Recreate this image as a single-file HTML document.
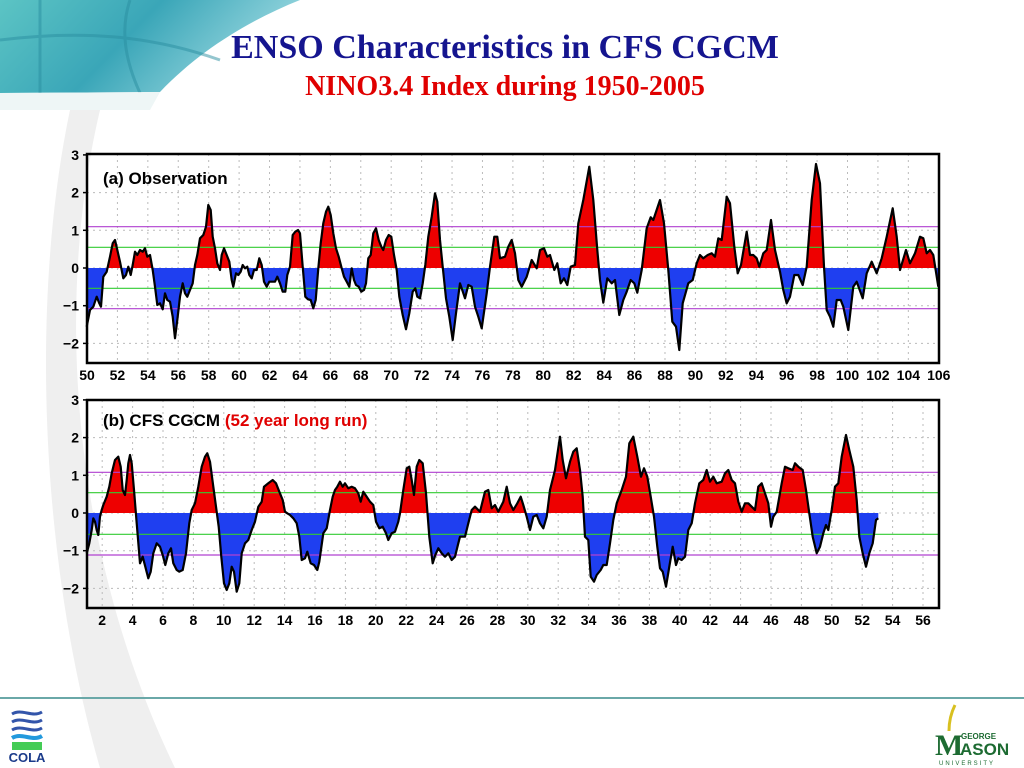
<!DOCTYPE html>
<html><head><meta charset="utf-8"><style>
html,body{margin:0;padding:0;background:#fff;}
#c{position:relative;width:1024px;height:768px;overflow:hidden;}
svg text{font-family:"Liberation Sans",Arial,sans-serif;}
</style></head><body><div id="c">
<svg id="s" width="1024" height="768" viewBox="0 0 1024 768" xmlns="http://www.w3.org/2000/svg">
<defs>
<linearGradient id="tg" x1="0" y1="0" x2="1" y2="0.3">
<stop offset="0" stop-color="#5cc4c4"/><stop offset="0.5" stop-color="#3aa6b8"/><stop offset="1" stop-color="#9ad8e0"/></linearGradient>
<clipPath id="ta"><rect x="87" y="150" width="853" height="118"/></clipPath>
<clipPath id="tb"><rect x="87" y="268" width="853" height="100"/></clipPath>
<clipPath id="ba"><rect x="87" y="396" width="853" height="117"/></clipPath>
<clipPath id="bb"><rect x="87" y="513" width="853" height="100"/></clipPath>
</defs>
<path d="M0,0 L300,0 C250,20 200,50 160,92 L0,93 Z" fill="url(#tg)"/>
<path d="M40,0 L40,93 M0,40 C80,30 150,35 220,60 M130,0 C120,30 125,60 140,93" stroke="#2a8ea0" stroke-width="3" fill="none" opacity="0.5"/>
<path d="M0,93 L160,92 L150,110 L0,110 Z" fill="#eef6f6"/>
<path d="M100,110 C55,300 70,550 175,768 L100,768 C40,560 30,300 70,110 Z" fill="#efefef"/>
<text x="505" y="58" text-anchor="middle" style="font-family:'Liberation Serif',serif;font-weight:bold;font-size:34px" fill="#15158f">ENSO Characteristics in CFS CGCM</text>
<text x="505" y="95" text-anchor="middle" style="font-family:'Liberation Serif',serif;font-weight:bold;font-size:28px" fill="#e00000">NINO3.4 Index during 1950-2005</text>
<line x1="0" y1="698" x2="1024" y2="698" stroke="#6aa8a8" stroke-width="2"/>
<g id="g"></g>
<g transform="translate(10,708)">
<path d="M2,6 C12,0 22,10 32,4 M2,14 C12,8 22,18 32,12 M2,22 C12,16 22,26 32,20" stroke="#3355aa" stroke-width="3" fill="none"/>
<path d="M2,30 C12,24 22,34 32,28" stroke="#2299dd" stroke-width="4" fill="none"/>
<rect x="2" y="34" width="30" height="8" fill="#44cc55"/>
<text x="17" y="54" text-anchor="middle" font-size="13" font-weight="bold" fill="#1a3a8a">COLA</text>
</g>
<g transform="translate(935,705)">
<path d="M20,0 C16,8 14,16 14,26" stroke="#d8c020" stroke-width="3" fill="none"/>
<text x="0" y="50" font-size="30" font-weight="bold" fill="#1d6b32" style="font-family:'Liberation Serif',serif">M</text>
<text x="26" y="34" font-size="8" font-weight="bold" fill="#1d6b32">GEORGE</text>
<text x="25" y="50" font-size="17" font-weight="bold" fill="#1d6b32">ASON</text>
<text x="4" y="60" font-size="6" fill="#1d6b32" letter-spacing="2">UNIVERSITY</text>
</g>
</svg></div>
<script>
var NS="http://www.w3.org/2000/svg",g=document.getElementById("g");
function el(t,a,txt){var e=document.createElementNS(NS,t);for(var k in a)e.setAttribute(k,a[k]);if(txt!=null)e.textContent=txt;g.appendChild(e);return e;}
var top1=[[80,560],[90,510],[100,500],[110,470],[118,490],[123,500],[130,410],[140,395],[150,350],[158,310],[165,300],[172,330],[180,365],[190,415],[198,405],[205,380],[212,405],[218,375],[225,335],[232,345],[240,330],[248,335],[255,325],[262,350],[270,345],[278,390],[285,440],[292,495],[300,490],[308,508],[315,460],[322,480],[330,485],[338,530],[345,595],[352,540],[360,470],[368,430],[375,460],[382,470],[390,450],[398,430],[405,375],[412,345],[420,295],[430,285],[438,260],[445,195],[452,210],[458,290],[465,325],[472,370],[480,390],[485,345],[492,325],[500,345],[508,365],[515,420],[520,440],[528,400],[535,405],[542,395],[548,375],[555,385],[562,380],[568,405],[575,415],[582,390],[590,390],[598,355],[605,375],[612,425],[620,440],[628,425],[636,425],[645,425],[652,410],[660,430],[668,455],[676,455],[682,405],[690,380],[698,285],[706,275],[714,270],[720,280],[728,380],[736,470],[744,478],[752,480],[760,505],[767,480],[775,385],[782,310],[790,250],[798,215],[805,200],[812,225],[820,280],[828,325],[836,350],[845,385],[852,410],[860,425],[868,440],[875,385],[882,420],[888,435],[896,440],[904,455],[912,450],[918,430],[925,355],[932,345],[940,280],[948,265],[956,300],[964,320],[970,330],[978,300],[986,285],[994,290],[1002,345],[1010,390],[1018,470],[1028,525],[1038,568],[1048,520],[1058,455],[1066,445],[1072,470],[1080,475],[1088,430],[1096,375],[1105,290],[1115,230],[1125,160],[1132,185],[1140,300],[1148,380],[1158,475],[1168,530],[1178,600],[1188,520],[1200,430]];
var top2=[[75,475],[85,435],[95,440],[105,500],[115,530],[125,565],[140,460],[150,380],[163,290],[172,290],[180,355],[195,350],[205,320],[215,300],[225,340],[235,420],[245,440],[260,410],[275,360],[290,385],[300,330],[312,325],[322,350],[330,345],[343,390],[352,370],[362,430],[372,415],[382,435],[392,380],[405,375],[415,250],[430,180],[448,80],[460,180],[472,330],[480,420],[490,488],[502,415],[515,430],[525,420],[538,525],[550,480],[560,455],[572,420],[583,430],[592,458],[605,390],[620,265],[632,232],[640,240],[660,180],[672,250],[685,390],[697,545],[708,560],[718,630],[728,490],[745,430],[758,420],[770,370],[780,345],[790,355],[803,345],[815,340],[825,350],[835,295],[845,300],[860,170],[870,190],[883,320],[893,400],[903,375],[920,275],[930,345],[940,345],[950,355],[958,380],[970,340],[980,330],[993,240],[1005,330],[1020,395],[1030,450],[1040,490],[1050,470],[1063,405],[1075,405],[1088,435],[1100,380],[1115,180],[1128,72],[1140,130],[1152,380],[1160,510],[1170,530],[1180,560],[1190,480],[1202,480],[1210,500],[1225,570],[1240,440],[1250,425],[1268,475],[1280,400],[1295,365],[1310,400],[1325,355],[1340,290],[1358,205],[1370,290],[1380,390],[1398,330],[1410,370],[1425,340],[1440,290],[1450,295],[1460,340],[1470,330],[1480,345],[1495,440]];
var bot1=[[80,490],[88,460],[95,420],[100,385],[105,395],[110,420],[115,435],[120,380],[125,360],[130,345],[140,320],[148,290],[155,250],[165,210],[175,200],[182,230],[188,300],[195,315],[200,270],[205,220],[210,195],[215,220],[222,300],[230,400],[240,520],[248,500],[256,530],[265,565],[272,545],[280,490],[290,460],[300,470],[308,495],[316,525],[325,490],[333,475],[340,520],[350,540],[358,545],[368,540],[378,490],[388,400],[395,360],[405,340],[415,290],[425,230],[435,200],[442,190],[450,215],[460,290],[468,350],[476,410],[484,500],[492,580],[500,600],[508,580],[515,530],[522,545],[530,605],[538,580],[545,490],[555,460],[565,450],[575,420],[585,395],[595,350],[605,335],[612,290],[625,280],[638,270],[648,280],[658,305],[668,330],[675,365],[682,370],[690,375],[700,385],[710,400],[718,440],[725,510],[735,505],[742,485],[752,520],[762,525],[772,540],[778,515],[790,430],[800,415],[810,360],[818,320],[825,300],[832,290],[840,275],[848,290],[855,280],[865,295],[875,290],[885,295],[895,310],[902,335],[910,305],[920,320],[930,335],[940,345],[948,395],[958,415],[968,410],[978,430],[985,450],[995,430],[1005,425],[1015,395],[1020,370],[1030,300],[1040,235],[1048,230],[1055,270],[1062,315],[1070,230],[1078,210],[1088,220],[1098,310],[1108,440],[1118,520],[1126,495],[1135,475],[1145,490],[1155,500],[1165,490],[1175,510],[1185,500],[1195,460],[1200,440]];
var bot2=[[75,440],[85,400],[95,360],[105,350],[120,365],[135,305],[145,300],[155,355],[165,345],[175,365],[190,335],[200,290],[210,340],[220,360],[232,340],[242,320],[250,345],[260,380],[270,420],[280,380],[290,375],[300,400],[310,415],[320,380],[330,300],[345,240],[360,140],[368,210],[378,265],[390,215],[400,185],[410,175],[420,240],[428,320],[435,440],[445,450],[452,560],[462,575],[470,555],[482,540],[490,525],[500,525],[510,460],[520,390],[530,340],[545,300],[558,260],[568,160],[580,140],[592,200],[603,260],[612,235],[622,260],[632,320],[642,380],[652,470],[660,535],[668,545],[678,590],[688,530],[698,470],[708,525],[715,505],[725,510],[735,500],[745,420],[755,400],[765,340],[778,280],[790,270],[800,240],[810,275],[820,260],[830,280],[845,275],[855,250],[865,240],[875,270],[885,280],[895,335],[905,365],[915,340],[925,340],[935,350],[945,360],[955,290],[965,280],[975,310],[985,340],[993,410],[1000,380],[1010,365],[1025,280],[1035,230],[1045,235],[1058,240],[1065,220],[1075,230],[1088,240],[1098,300],[1108,370],[1118,440],[1130,490],[1140,470],[1150,430],[1158,405],[1165,420],[1175,360],[1185,290],[1195,280],[1205,200],[1218,135],[1228,180],[1240,230],[1250,330],[1258,440],[1268,490],[1278,530],[1288,490],[1298,460],[1308,390],[1315,385]];
function conv(a,b,oy){var p=[];a.forEach(function(q){p.push([60+q[0]/3,oy+q[1]/3]);});b.forEach(function(q){p.push([440+q[0]/3,oy+q[1]/3]);});return p;}
function panel(o){
 var T=o.top,B=o.bot,L=87,R=939,z=o.zero,u=37.7;
 o.xs.forEach(function(x){el("line",{x1:x,y1:T,x2:x,y2:B,stroke:"#bbb","stroke-width":1,"stroke-dasharray":"2,4"});});
 for(var v=-2;v<=2;v++){var y=z-v*u;el("line",{x1:L,y1:y,x2:R,y2:y,stroke:"#bbb","stroke-width":1,"stroke-dasharray":"2,4"});}
 var pts=o.pts,d="M"+pts[0][0]+","+z;pts.forEach(function(p){d+=" L"+p[0].toFixed(1)+","+p[1].toFixed(1);});d+=" L"+pts[pts.length-1][0]+","+z+"Z";
 el("path",{d:d,fill:"#ee0000","clip-path":"url(#"+o.ca+")"});
 el("path",{d:d,fill:"#1f3ff0","clip-path":"url(#"+o.cb+")"});
 [[o.p1,"#b040d0"],[o.p2,"#b040d0"],[o.g1,"#33cc33"],[o.g2,"#33cc33"]].forEach(function(l){el("line",{x1:L,y1:l[0],x2:R,y2:l[0],stroke:l[1],"stroke-width":1.2});});
 var ld="M"+pts.map(function(p){return p[0].toFixed(1)+","+p[1].toFixed(1);}).join(" L");
 el("path",{d:ld,fill:"none",stroke:"#000","stroke-width":2.2,"stroke-linejoin":"round"});
 el("rect",{x:L,y:T,width:R-L,height:B-T,fill:"none",stroke:"#000","stroke-width":2.5});
 for(var v=-2;v<=3;v++){var y=z-v*u;el("line",{x1:L-4,y1:y,x2:L,y2:y,stroke:"#000","stroke-width":1.5});
  el("text",{x:L-8,y:y+5,"text-anchor":"end","font-size":14,"font-weight":"bold"},v<0?"\u2212"+(-v):""+v);}
 o.xs.forEach(function(x,i){el("text",{x:x,y:B+17,"text-anchor":"middle","font-size":14,"font-weight":"bold"},o.lab[i]);});
}
var xs1=[],lab1=[];for(var yr=50;yr<=106;yr+=2){xs1.push(87+(yr-50)*15.21);lab1.push(""+yr);}
var xs2=[],lab2=[];for(var yr=2;yr<=56;yr+=2){xs2.push(87+(yr-1)*15.2);lab2.push(""+yr);}
panel({top:154,bot:363,zero:268,pts:conv(top1,top2,140),ca:"ta",cb:"tb",p1:226.7,p2:308.7,g1:247.3,g2:288.3,xs:xs1,lab:lab1});
panel({top:400,bot:608,zero:513,pts:conv(bot1,bot2,390),ca:"ba",cb:"bb",p1:472.3,p2:555,g1:492.7,g2:534.3,xs:xs2,lab:lab2});
el("text",{x:103,y:184,"font-size":17,"font-weight":"bold"},"(a) Observation");
var t=el("text",{x:103,y:426,"font-size":17,"font-weight":"bold"},"(b) CFS CGCM ");
var ts=document.createElementNS(NS,"tspan");ts.setAttribute("fill","#e00000");ts.textContent="(52 year long run)";t.appendChild(ts);
</script>
</body></html>
